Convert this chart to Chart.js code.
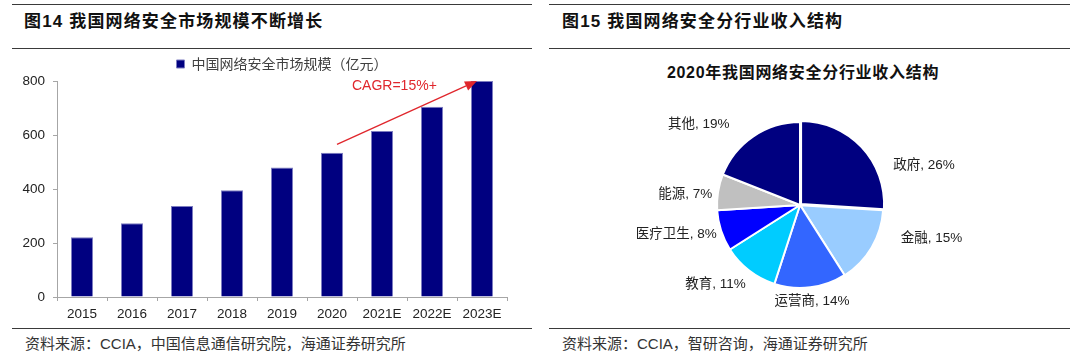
<!DOCTYPE html>
<html><head><meta charset="utf-8">
<script src="https://cdn.jsdelivr.net/npm/chart.js@4/dist/chart.umd.min.js"></script>
<style>
html,body{margin:0;padding:0;background:#fff;width:1080px;height:356px;overflow:hidden;}
body{position:relative;font-family:"Liberation Sans","Noto Sans CJK SC",sans-serif;}
.hr{position:absolute;height:0;border-top:1.5px solid #3a3a3a;}
.title{position:absolute;font-size:17px;font-weight:bold;color:#111;line-height:20px;white-space:nowrap;letter-spacing:1.15px;}
.src{position:absolute;font-size:15px;color:#333;line-height:18px;white-space:nowrap;}
.ptitle{position:absolute;font-size:16px;font-weight:bold;color:#111;line-height:20px;white-space:nowrap;text-align:center;letter-spacing:0.7px;}
canvas{position:absolute;}
</style></head><body>
<div class="hr" style="left:12px;width:520px;top:4px"></div>
<div class="hr" style="left:12px;width:520px;top:48px"></div>
<div class="hr" style="left:12px;width:520px;top:328px"></div>
<div class="hr" style="left:549px;width:521px;top:4px"></div>
<div class="hr" style="left:549px;width:521px;top:48px"></div>
<div class="hr" style="left:549px;width:521px;top:328px"></div>
<div class="title" style="left:24px;top:12px">图14 我国网络安全市场规模不断增长</div>
<div class="title" style="left:562px;top:12px">图15 我国网络安全分行业收入结构</div>
<div class="src" style="left:25px;top:335px">资料来源：CCIA，中国信息通信研究院，海通证券研究所</div>
<div class="src" style="left:562px;top:335px">资料来源：CCIA，智研咨询，海通证券研究所</div>
<div class="ptitle" style="left:540px;width:526px;top:63px">2020年我国网络安全分行业收入结构</div>
<canvas id="bar" width="540" height="280" style="left:0;top:50px"></canvas>
<canvas id="pie" width="530" height="270" style="left:540px;top:50px"></canvas>
<script>
// ---- Bar chart data ----
const years = ['2015','2016','2017','2018','2019','2020','2021E','2022E','2023E'];
const marketSize = [221, 273, 337, 395, 480, 534, 615, 705, 800];
const seriesName = '中国网络安全市场规模（亿元）';
const yTicks = [0, 200, 400, 600, 800];
const cagrText = 'CAGR=15%+';

// ---- Pie chart data ----
const sectors = ['政府','金融','运营商','教育','医疗卫生','能源','其他'];
const sectorShare = [26, 15, 14, 11, 8, 7, 19];
const sectorColors = ['#000080','#99ccff','#3366ff','#00ccff','#0000ff','#c0c0c0','#000080'];

Chart.defaults.font.family = '"Liberation Sans","Noto Sans CJK SC",sans-serif';
Chart.defaults.color = '#222';

const cagrPlugin = {
  id: 'cagr',
  afterDatasetsDraw(chart) {
    const x = chart.scales.x, y = chart.scales.y, ctx = chart.ctx;
    const x0 = x.getPixelForValue(5) + 5, y0 = y.getPixelForValue(565);
    const x1 = x.getPixelForValue(8) - 5, y1 = y.getPixelForValue(800);
    const ang = Math.atan2(y1 - y0, x1 - x0);
    const L = 12, W = 5;
    ctx.save();
    ctx.strokeStyle = '#e0262c'; ctx.fillStyle = '#e0262c'; ctx.lineWidth = 1.3;
    ctx.beginPath();
    ctx.moveTo(x0, y0);
    ctx.lineTo(x1 - L * Math.cos(ang), y1 - L * Math.sin(ang));
    ctx.stroke();
    ctx.beginPath();
    ctx.moveTo(x1, y1);
    ctx.lineTo(x1 - L * Math.cos(ang) + W * Math.sin(ang), y1 - L * Math.sin(ang) - W * Math.cos(ang));
    ctx.lineTo(x1 - L * Math.cos(ang) - W * Math.sin(ang), y1 - L * Math.sin(ang) + W * Math.cos(ang));
    ctx.closePath(); ctx.fill();
    ctx.font = '14px "Liberation Sans"';
    ctx.textAlign = 'left'; ctx.textBaseline = 'middle';
    ctx.fillText(cagrText, x.getPixelForValue(5.4), y.getPixelForValue(780));
    ctx.restore();
  }
};

new Chart(document.getElementById('bar'), {
  type: 'bar',
  data: {
    labels: years,
    datasets: [{
      label: seriesName,
      data: marketSize,
      backgroundColor: '#000080',
      borderColor: '#7c7cc0',
      borderWidth: 1,
      barPercentage: 0.44,
      categoryPercentage: 1.0
    }]
  },
  options: {
    responsive: false, animation: false, devicePixelRatio: 1,
    layout: { padding: { left: 0, right: 33, top: 1, bottom: 0 } },
    plugins: {
      legend: {
        display: true, position: 'top', fullSize: false,
        labels: { boxWidth: 8, boxHeight: 8, padding: 6, color: '#404040',
                  font: { size: 14, family: '"Noto Sans CJK SC","Liberation Sans"' } }
      },
      tooltip: { enabled: false }
    },
    scales: {
      x: {
        grid: { display: true, drawOnChartArea: false, drawTicks: true, tickLength: 4, color: '#a6a6a6', offset: true },
        border: { color: '#a6a6a6', width: 1 },
        ticks: { font: { size: 13.5 }, color: '#222', padding: 5, maxRotation: 0, autoSkip: false },
        afterFit(s) { s.height = 33; }
      },
      y: {
        min: 0, max: 800,
        afterBuildTicks(s) { s.ticks = yTicks.map(v => ({ value: v })); },
        grid: { display: true, drawOnChartArea: false, drawTicks: true, tickLength: 4, color: '#a6a6a6' },
        border: { color: '#a6a6a6', width: 1 },
        ticks: { font: { size: 13.5 }, color: '#222', padding: 8 },
        afterFit(s) { s.width = 57; }
      }
    }
  },
  plugins: [cagrPlugin]
});

// Excel "best fit" style label nudges (text layout only, in px)
const labelNudge = [[24, 30], [19, -19], [0, -5], [4, -1], [7, -2], [6, 5], [-17, 4]];

const pieLabelPlugin = {
  id: 'pieLabels',
  afterDatasetsDraw(chart) {
    const ctx = chart.ctx;
    const meta = chart.getDatasetMeta(0);
    ctx.save();
    ctx.font = '13.5px "Liberation Sans","Noto Sans CJK SC"';
    ctx.fillStyle = '#222';
    ctx.textBaseline = 'middle';
    meta.data.forEach((arc, i) => {
      const p = arc.getProps(['startAngle','endAngle','outerRadius']);
      const mid = (p.startAngle + p.endAngle) / 2;
      const cx = chart.chartArea.left + chart.chartArea.width / 2;
      const cy = chart.chartArea.top + chart.chartArea.height / 2;
      const r = p.outerRadius + 12;
      const ax = cx + Math.cos(mid) * r, ay = cy + Math.sin(mid) * r;
      const txt = sectors[i] + ', ' + sectorShare[i] + '%';
      const c = Math.cos(mid);
      ctx.textAlign = c > 0.3 ? 'left' : (c < -0.3 ? 'right' : 'center');
      ctx.fillText(txt, ax + labelNudge[i][0], ay + Math.sin(mid) * 7 + labelNudge[i][1]);
    });
    ctx.restore();
  }
};

new Chart(document.getElementById('pie'), {
  type: 'pie',
  data: {
    labels: sectors,
    datasets: [{
      data: sectorShare,
      backgroundColor: sectorColors,
      borderColor: '#ffffff',
      borderWidth: 2,
      offset: [6, 1, 0, 0, 0, 0, 0],
      radius: 83
    }]
  },
  options: {
    responsive: false, animation: false, devicePixelRatio: 1,
    layout: { padding: { left: 170, right: 180, top: 65, bottom: 25 } },
    plugins: { legend: { display: false }, tooltip: { enabled: false } }
  },
  plugins: [pieLabelPlugin]
});
</script>
</body></html>
